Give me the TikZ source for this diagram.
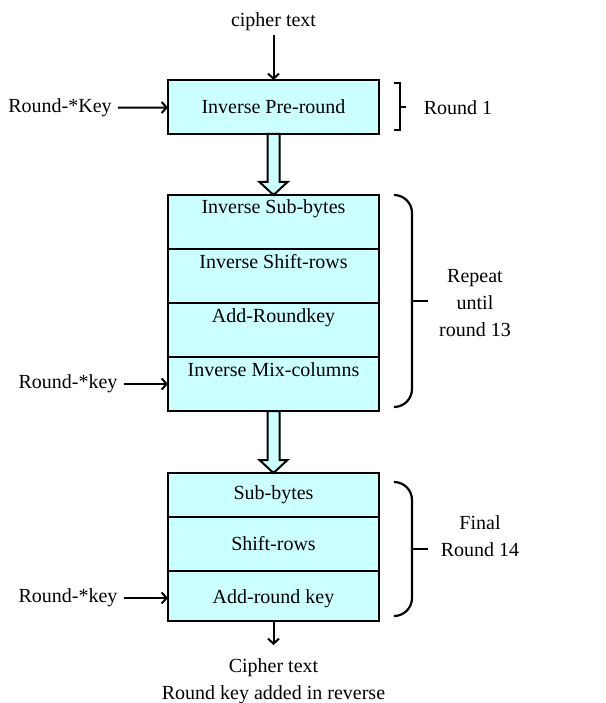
\documentclass[tikz,border=0pt]{standalone}
\usepackage{fontspec}
\setmainfont{Liberation Serif}
\usetikzlibrary{arrows.meta,positioning,calc}
\definecolor{aescyan}{RGB}{204,255,255}

\tikzset{
  cell/.style={draw, line width=2.2pt, fill=aescyan, minimum width=211pt, inner sep=0pt, outer sep=0pt},
  topcell/.style={cell, minimum height=54pt, text height=13pt, text depth=29pt},
  thinarrow/.style={line width=2pt, -{Straight Barb[length=5pt,width=11pt]}},
  bracestyle/.style={line width=2.2pt, rounded corners=18pt},
}

\newcommand{\fatarrow}[2]{%
  \draw[line width=2pt, fill=aescyan, line join=miter]
    ($(#1)+(-6,0)$) -- ($(#2)+(-6,-13)$) -- ($(#2)+(-14,-13)$) -- (#2)
    -- ($(#2)+(14,-13)$) -- ($(#2)+(6,-13)$) -- ($(#1)+(6,0)$) -- cycle;}

\begin{document}
\begin{tikzpicture}[x=1pt,y=-1pt,font=\fontsize{20}{27}\selectfont]
      \useasboundingbox (0,0) rectangle (605,703);

      % Input
      \node (ctin) at (273.5,22) {cipher text};

      % Round 1
      \node[cell, minimum height=54pt] (pre) at (273.5,107) {Inverse Pre-round};
      \node[inner sep=6pt] (key1) at (60,108) {Round-*Key};
      \node (r1) at (458,108) {Round 1};
      \draw[thinarrow] (ctin) -- (pre);
      \draw[thinarrow] (key1) -- (pre);
      \draw[line width=2.2pt] (394,83) -- (400,83) -- (400,130) -- (394,130);
      \draw[line width=2.2pt] (400,107) -- (406,107);

      % Rounds 2..13
      \node[topcell, anchor=north] (isb) at (273.5,195) {Inverse Sub-bytes};
      \node[topcell, below=0pt of isb] (isr) {Inverse Shift-rows};
      \node[topcell, below=0pt of isr] (ark) {Add-Roundkey};
      \node[topcell, below=0pt of ark] (imc) {Inverse Mix-columns};
      \node[inner sep=6pt] (key2) at (68,384) {Round-*key};
      \draw[thinarrow] (key2) -- (imc.west |- key2);
      \fatarrow{pre.south}{isb.north}
      \draw[bracestyle] (395,195) -| (412,301) |- (395,407);
      \draw[line width=2.2pt] (412,301) -- (428,301);
      \node[align=center] (rep) at (475,303) {Repeat\\until\\round 13};

      % Final round
      \node[cell, minimum height=44pt, anchor=north] (sb) at (273.5,473) {Sub-bytes};
      \node[cell, minimum height=54pt, below=0pt of sb] (sr) {Shift-rows};
      \node[cell, minimum height=50pt, below=0pt of sr, text height=19pt, text depth=4pt] (ark2) {Add-round key};
      \node[inner sep=6pt] (key3) at (68,598) {Round-*key};
      \draw[thinarrow] (key3) -- (ark2.west |- key3);
      \fatarrow{imc.south}{sb.north}
      \draw[bracestyle] (395,482) -| (412,549) |- (395,616);
      \draw[line width=2.2pt] (412,549) -- (428,549);
      \node[align=center] (fin) at (480,536) {Final\\Round 14};

      % Output
      \coordinate (outend) at (273.5,645);
      \draw[thinarrow] (ark2) -- (outend);
      \node[align=center] (ctout) at (273.5,681) {Cipher text\\Round key added in reverse};
    \end{tikzpicture}
\end{document}
